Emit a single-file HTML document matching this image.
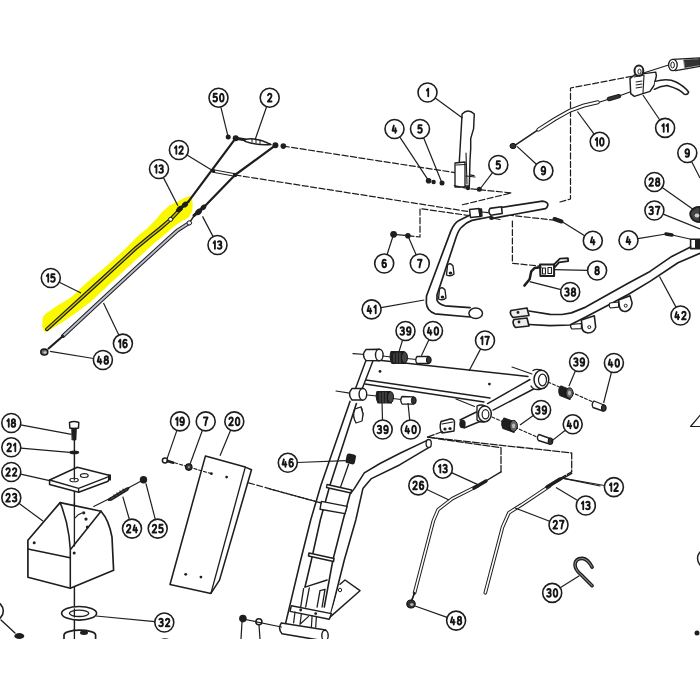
<!DOCTYPE html>
<html><head><meta charset="utf-8"><style>
html,body{margin:0;padding:0;background:#fff;}
svg{display:block;}
text{font-family:"Liberation Sans",sans-serif;fill:#1a1a1a;stroke:#1a1a1a;stroke-width:0.15px;}
</style></head><body>
<svg width="700" height="700" viewBox="0 0 700 700">
<rect x="0" y="0" width="700" height="700" fill="#fff"/>

<svg x="0" y="0" width="700" height="639" viewBox="0 0 700 639" overflow="hidden">
<path d="M190.3,196.6 L184,198.9 L176.9,202.9 L169.9,206 L162,213.1 L155.7,220.9 L147.9,228.8 L140,235.1 L135.7,239.4 L124,251 L112.5,261.5 L101.4,271.4 L90.7,280 L82.9,287.1 L75.7,294.3 L68.6,300 L60,305 L54.3,308.6 L47.1,313.6 L43.6,317.1 L42.9,326.4 L45,331 L47.1,330.7 L61.4,322.1 L75.7,312.1 L90,301.4 L112.9,280 L135.7,259 L154,242.5 L166.7,232 L174.6,225 L180.8,220.9 L187.9,217 L191.5,211 L192,204 L191,197.5 Z" fill="#fbf900" stroke="#fbf900" stroke-width="1.5" stroke-linejoin="round"/>
<polyline points="283.3,146.1 475,175.7" fill="none" stroke="#1e1e1e" stroke-width="1.2320000000000002" stroke-dasharray="6,2.5" stroke-linejoin="round" stroke-linecap="round" />
<polyline points="235,175 468,211.5" fill="none" stroke="#1e1e1e" stroke-width="1.2320000000000002" stroke-dasharray="6,2.5" stroke-linejoin="round" stroke-linecap="round" />
<polyline points="482,212 561,221" fill="none" stroke="#1e1e1e" stroke-width="1.2320000000000002" stroke-dasharray="6,2.5" stroke-linejoin="round" stroke-linecap="round" />
<polyline points="235.7,138.2 188.6,201.4" fill="none" stroke="#1e1e1e" stroke-width="2.24" stroke-linejoin="round" stroke-linecap="round" />
<polyline points="275.4,145.3 235,175 204,207" fill="none" stroke="#1e1e1e" stroke-width="2.24" stroke-linejoin="round" stroke-linecap="round" />
<polyline points="213.2,171 235,175" fill="none" stroke="#1e1e1e" stroke-width="3.4000000000000004" stroke-linejoin="round" stroke-linecap="round"/>
<polyline points="213.2,171 235,175" fill="none" stroke="#fff" stroke-width="1.6" stroke-linejoin="round" stroke-linecap="round"/>
<polyline points="236,138.2 246,140" fill="none" stroke="#1e1e1e" stroke-width="3.0" stroke-linejoin="round" stroke-linecap="round" />
<path d="M245,139.6 Q256,136.6 271,144.6 Q257,145.6 245,141.4 Z" fill="#fff" stroke="#1e1e1e" stroke-width="1.4560000000000002" stroke-linejoin="round" stroke-linecap="round"/>
<path d="M252,139 L252,142 M256,139.3 L256,143 M260,140 L260,143.6" fill="none" stroke="#1e1e1e" stroke-width="1.0080000000000002" stroke-linejoin="round" stroke-linecap="round"/>
<circle cx="228.2" cy="137.1" r="2.5" fill="#1e1e1e"/>
<circle cx="235.7" cy="138.2" r="3" fill="#1e1e1e"/>
<circle cx="275.4" cy="145.3" r="3" fill="#1e1e1e"/>
<circle cx="283.3" cy="146.1" r="2.8" fill="#1e1e1e"/>
<circle cx="213.5" cy="171" r="1.8" fill="#1e1e1e"/>
<circle cx="235" cy="175" r="2.2" fill="#1e1e1e"/>
<polyline points="181,208.5 170.6,219.4 160,228.5 150,236.5 136,248 100,281 46.9,329.3" fill="none" stroke="#1e1e1e" stroke-width="3.8" stroke-linejoin="round" stroke-linecap="round"/>
<polyline points="181,208.5 170.6,219.4 160,228.5 150,236.5 136,248 100,281 46.9,329.3" fill="none" stroke="#c9c400" stroke-width="1.5" stroke-linejoin="round" stroke-linecap="round"/>
<ellipse cx="170.6" cy="219.4" rx="2.2" ry="2" fill="#eee" stroke="#1e1e1e" stroke-width="1"/>
<polyline points="195,214.5 189.3,222.9" fill="none" stroke="#1e1e1e" stroke-width="1.4560000000000002" stroke-linejoin="round" stroke-linecap="round" />
<polyline points="189.3,222.9 177.7,230.3 168,239 135.7,268.5 100,301.5 63,336" fill="none" stroke="#1e1e1e" stroke-width="3.9" stroke-linejoin="round" stroke-linecap="round"/>
<polyline points="189.3,222.9 177.7,230.3 168,239 135.7,268.5 100,301.5 63,336" fill="none" stroke="#b8bccc" stroke-width="1.9" stroke-linejoin="round" stroke-linecap="round"/>
<ellipse cx="189.3" cy="222.9" rx="2.3" ry="2.1" fill="#eee" stroke="#1e1e1e" stroke-width="1"/>
<polyline points="63,336 48.6,348.5" fill="none" stroke="#1e1e1e" stroke-width="2.24" stroke-linejoin="round" stroke-linecap="round" />
<ellipse cx="44.3" cy="352.1" rx="3.6" ry="3.1" fill="#666" stroke="#111" stroke-width="1.3"/>
<ellipse cx="45" cy="352.5" rx="1.5" ry="1.2" fill="#ccc"/>
<polyline points="177.5,210.5 186.5,203.5" fill="none" stroke="#1e1e1e" stroke-width="3.2" stroke-linejoin="round" stroke-linecap="round" />
<ellipse cx="179.8" cy="208.8" rx="3.2" ry="2.6" transform="rotate(-38 179.8 208.8)" fill="#1e1e1e"/>
<ellipse cx="185" cy="204.6" rx="3.2" ry="2.6" transform="rotate(-38 185 204.6)" fill="#1e1e1e"/>
<polyline points="185,205 188.6,201.4" fill="none" stroke="#1e1e1e" stroke-width="2.24" stroke-linejoin="round" stroke-linecap="round" />
<polyline points="194,215.5 205,206" fill="none" stroke="#1e1e1e" stroke-width="3.0" stroke-linejoin="round" stroke-linecap="round" />
<ellipse cx="198.6" cy="211.8" rx="3.6" ry="2.8" transform="rotate(-42 198.6 211.8)" fill="#1e1e1e"/>
<ellipse cx="203.4" cy="207.4" rx="3" ry="2.4" transform="rotate(-42 203.4 207.4)" fill="#1e1e1e"/>
<path d="M457.9,186 L462.1,114 Q468,108 474.3,114 L473.6,128.6 L470.7,138.6 L470.7,148.6 L470,160 L469.3,186 Z" fill="#fff" stroke="#1e1e1e" stroke-width="1.4560000000000002" stroke-linejoin="round" stroke-linecap="round"/>
<path d="M455,163 L465,162 L465,187 L455,187 Z" fill="#fff" stroke="#1e1e1e" stroke-width="1.344" stroke-linejoin="round" stroke-linecap="round"/>
<path d="M456,165 L465.5,164.5" fill="none" stroke="#1e1e1e" stroke-width="1.12" stroke-linejoin="round" stroke-linecap="round"/>
<polyline points="466,153 467,184" fill="none" stroke="#1e1e1e" stroke-width="1.12" stroke-linejoin="round" stroke-linecap="round" />
<polyline points="466,176 475,177" fill="none" stroke="#1e1e1e" stroke-width="1.12" stroke-linejoin="round" stroke-linecap="round" />
<polyline points="454.3,185.7 468.6,188.6 511.4,192.9 461.4,205" fill="none" stroke="#1e1e1e" stroke-width="1.2320000000000002" stroke-dasharray="6,2.5" stroke-linejoin="round" stroke-linecap="round" />
<circle cx="428.6" cy="180.7" r="2.8" fill="#1e1e1e"/>
<circle cx="433.6" cy="182" r="2.2" fill="#1e1e1e"/>
<circle cx="442" cy="183" r="2.5" fill="#1e1e1e"/>
<circle cx="479.3" cy="189.3" r="2.5" fill="#1e1e1e"/>
<circle cx="468" cy="188" r="2.2" fill="#1e1e1e"/>
<polyline points="560,202 570.5,199 570.5,88 631.4,76.4" fill="none" stroke="#1e1e1e" stroke-width="1.2320000000000002" stroke-dasharray="6,2.5" stroke-linejoin="round" stroke-linecap="round" />
<polyline points="631,77 668.6,65" fill="none" stroke="#1e1e1e" stroke-width="1.2320000000000002" stroke-linejoin="round" stroke-linecap="round" />
<polyline points="513.4,146.3 538.4,129.6" fill="none" stroke="#1e1e1e" stroke-width="1.568" stroke-linejoin="round" stroke-linecap="round" />
<polyline points="538.4,129.6 555,119 570,110.6 584,105.5 597.9,102.2" fill="none" stroke="#1e1e1e" stroke-width="4.0" stroke-linejoin="round" stroke-linecap="round"/>
<polyline points="538.4,129.6 555,119 570,110.6 584,105.5 597.9,102.2" fill="none" stroke="#fff" stroke-width="2.0" stroke-linejoin="round" stroke-linecap="round"/>
<polyline points="600,102 609,99" fill="none" stroke="#1e1e1e" stroke-width="1.2320000000000002" stroke-linejoin="round" stroke-linecap="round" />
<polyline points="609,99 619,96.2" fill="none" stroke="#1e1e1e" stroke-width="4.5" stroke-linejoin="round" stroke-linecap="round"/>
<polyline points="609,99 619,96.2" fill="none" stroke="#333" stroke-width="2.5" stroke-linejoin="round" stroke-linecap="round"/>
<polyline points="619,96 630,92" fill="none" stroke="#1e1e1e" stroke-width="1.2320000000000002" stroke-linejoin="round" stroke-linecap="round" />
<ellipse cx="513" cy="146" rx="3" ry="2.6" fill="#333" stroke="#111" stroke-width="1"/>
<path d="M630,78.6 L634.3,75 L644.3,73.6 L655.7,72.1 L656.4,75.7 L654.3,85 L650,91.4 L642.9,93.6 L634.3,96.4 L630.7,93.6 Z" fill="#fff" stroke="#1e1e1e" stroke-width="1.4560000000000002" stroke-linejoin="round" stroke-linecap="round"/>
<path d="M634,77 L644,75 L643,93" fill="none" stroke="#1e1e1e" stroke-width="1.12" stroke-linejoin="round" stroke-linecap="round"/>
<path d="M636,82 L642,81 M636,85 L642,84 M636,88 L642,87" fill="none" stroke="#1e1e1e" stroke-width="1.0080000000000002" stroke-linejoin="round" stroke-linecap="round"/>
<ellipse cx="638.9" cy="70.7" rx="4.4" ry="5.1" fill="#fff" stroke="#1e1e1e" stroke-width="2"/>
<ellipse cx="639.5" cy="71.5" rx="1.6" ry="2.4" fill="#fff" stroke="#1e1e1e" stroke-width="1"/>
<path d="M655,81.4 Q668,78 676,82 Q684,86 688.6,92 Q688,95 684.3,94.3 Q680,89 667,85.5 Q660,86 654.3,89.3" fill="#fff" stroke="#1e1e1e" stroke-width="1.4560000000000002" stroke-linejoin="round" stroke-linecap="round"/>
<path d="M673,59.3 L700,57.9 L700,66.4 L675.7,70.7" fill="#fff" stroke="#1e1e1e" stroke-width="1.344" stroke-linejoin="round" stroke-linecap="round"/>
<ellipse cx="672.9" cy="65" rx="4.3" ry="5.7" fill="#fff" stroke="#1e1e1e" stroke-width="1.3"/>
<path d="M684,60 L700,59.2 L700,65 L685,67.5 Z" fill="#333" stroke="#1e1e1e" stroke-width="0.56" stroke-linejoin="round" stroke-linecap="round"/>
<ellipse cx="672.6" cy="65" rx="1.8" ry="3" fill="#fff" stroke="#1e1e1e" stroke-width="1"/>
<path d="M690.5,212 Q694,206.5 700,207 L700,222 Q694,222 691.5,218 Q689.5,215 690.5,212 Z" fill="#444" stroke="#1e1e1e" stroke-width="1.7920000000000003" stroke-linejoin="round" stroke-linecap="round"/>
<ellipse cx="697" cy="215.5" rx="2.4" ry="2" fill="#ccc"/>
<polyline points="554.5,219 561.5,221.5" fill="none" stroke="#1e1e1e" stroke-width="4" stroke-linejoin="round" stroke-linecap="round" />
<polyline points="666,234 672,235" fill="none" stroke="#1e1e1e" stroke-width="3.5" stroke-linejoin="round" stroke-linecap="round" />
<polyline points="672,235 690,239" fill="none" stroke="#1e1e1e" stroke-width="1.2320000000000002" stroke-linejoin="round" stroke-linecap="round" />
<path d="M690.6,239.2 L700,239.2 L700,248.6 L690.6,248.6 Z" fill="#fff" stroke="#1e1e1e" stroke-width="1.568" stroke-linejoin="round" stroke-linecap="round"/>
<rect x="695" y="239.5" width="5" height="9" fill="#1e1e1e"/>
<polyline points="529,311 550,314.3 562,314.5 571.4,312.9 585.7,307.1 607.1,295 628.6,282.9 650,271.4 671.8,256.4 690.6,247" fill="none" stroke="#1e1e1e" stroke-width="1.6800000000000002" stroke-linejoin="round" stroke-linecap="round" />
<polyline points="529,324.5 550,325.7 570,325 585.7,317.1 607.1,305.7 628.6,294.3 650,281.4 678,262.7 700,253.3" fill="none" stroke="#1e1e1e" stroke-width="1.6800000000000002" stroke-linejoin="round" stroke-linecap="round" />
<path d="M511,310.5 L527,308 L529,315.5 L513,317.5 Q509,314 511,310.5 Z" fill="#eee" stroke="#1e1e1e" stroke-width="1.6800000000000002" stroke-linejoin="round" stroke-linecap="round"/>
<path d="M514,319.5 L527,318 L529,326 L515.5,327.5 Q511.5,323 514,319.5 Z" fill="#eee" stroke="#1e1e1e" stroke-width="1.6800000000000002" stroke-linejoin="round" stroke-linecap="round"/>
<circle cx="518" cy="312.5" r="1.4" fill="#1e1e1e"/>
<circle cx="519" cy="322" r="1.4" fill="#1e1e1e"/>
<path d="M571.4,324.3 L581.4,323.5 L581.4,328.6 L572,329 Q569.5,326.5 571.4,324.3 Z" fill="#fff" stroke="#1e1e1e" stroke-width="1.2320000000000002" stroke-linejoin="round" stroke-linecap="round"/>
<path d="M581.4,320 L594.3,315.7 L595.7,327.1 Q594,333 588,333 Q582,332.5 582.1,327.1 Z" fill="#fff" stroke="#1e1e1e" stroke-width="1.568" stroke-linejoin="round" stroke-linecap="round"/>
<circle cx="589.3" cy="327.1" r="1.5" fill="#fff" stroke="#1e1e1e" stroke-width="1"/>
<path d="M610,303 L618.6,302 L618.6,307.1 L610.5,308 Q608,305.5 610,303 Z" fill="#fff" stroke="#1e1e1e" stroke-width="1.2320000000000002" stroke-linejoin="round" stroke-linecap="round"/>
<path d="M618.6,300 L630,295.7 L632.1,302.9 Q631.5,310 626,311.4 Q620,312 619.3,305.7 Z" fill="#fff" stroke="#1e1e1e" stroke-width="1.568" stroke-linejoin="round" stroke-linecap="round"/>
<circle cx="625.7" cy="305.7" r="1.5" fill="#fff" stroke="#1e1e1e" stroke-width="1"/>
<polyline points="512.4,221 512.4,263.3 540.4,266.1" fill="none" stroke="#1e1e1e" stroke-width="1.2320000000000002" stroke-dasharray="6,2.5" stroke-linejoin="round" stroke-linecap="round" />
<path d="M554.1,264.4 L559.9,258.7 L567.9,258.2 L568.2,261.2 L559,262.4 L554.1,268" fill="#fff" stroke="#1e1e1e" stroke-width="1.7920000000000003" stroke-linejoin="round" stroke-linecap="round"/>
<path d="M540,264.6 L554.1,264.4 L554.1,275.9 L540.4,276 Z" fill="#fff" stroke="#1e1e1e" stroke-width="2.0160000000000005" stroke-linejoin="round" stroke-linecap="round"/>
<path d="M542.5,268 L545.5,268 L545.5,274 L542.5,274 Z M548,267.5 L551.5,267.5 L551.5,273.5 L548,273.5 Z" fill="#fff" stroke="#1e1e1e" stroke-width="1.12" stroke-linejoin="round" stroke-linecap="round"/>
<polyline points="524.4,285.6 529.6,279.3 531.3,271.3 534.7,267.9 540.4,267.3" fill="none" stroke="#1e1e1e" stroke-width="2.4640000000000004" stroke-linejoin="round" stroke-linecap="round" />
<path d="M470.1,317 L435,313.8 Q427,311 426.3,303 L426.5,296 L450.6,231.6 Q454,223 459,220.4 L470.1,214.9" fill="none" stroke="#1e1e1e" stroke-width="1.6800000000000002" stroke-linejoin="round" stroke-linecap="round"/>
<path d="M470.1,307.7 L445,305.8 Q438,304 437,300 L437,295 L456.2,237.1 Q459,229 462,226.9 Q467,222 472,220.4 L490.6,216.7" fill="none" stroke="#1e1e1e" stroke-width="1.6800000000000002" stroke-linejoin="round" stroke-linecap="round"/>
<ellipse cx="475.7" cy="313.3" rx="6.8" ry="5.2" fill="#fff" stroke="#1e1e1e" stroke-width="1.5"/>
<path d="M446.5,275 L447.5,265 Q450,262 453,266 L454,274 Q451,277 446.5,275 Z" fill="#fff" stroke="#1e1e1e" stroke-width="1.344" stroke-linejoin="round" stroke-linecap="round"/>
<ellipse cx="450.5" cy="273" rx="1.8" ry="1.6" fill="#1e1e1e"/>
<path d="M438.5,299 L439.5,289 Q442,286 445,290 L446,298 Q443,301 438.5,299 Z" fill="#fff" stroke="#1e1e1e" stroke-width="1.344" stroke-linejoin="round" stroke-linecap="round"/>
<ellipse cx="442.5" cy="297" rx="1.8" ry="1.6" fill="#1e1e1e"/>
<path d="M491.4,209 L542.5,201.1 Q549,202 547.6,206 Q546.5,209 544.2,208.9 L492.7,218.3" fill="#fff" stroke="#1e1e1e" stroke-width="1.6800000000000002" stroke-linejoin="round" stroke-linecap="round"/>
<path d="M490,208.4 L501.5,206.7 L502.2,213.4 L490.8,215.3 Q487.5,211.8 490,208.4 Z" fill="#fff" stroke="#1e1e1e" stroke-width="1.568" stroke-linejoin="round" stroke-linecap="round"/>
<path d="M469.5,209.5 L479,208.5 L480,216.5 L470.5,217.5 Z" fill="#fff" stroke="#1e1e1e" stroke-width="1.4560000000000002" stroke-linejoin="round" stroke-linecap="round"/>
<path d="M479,209 L481.5,209 L482,216 L480,216.5 Z" fill="#1e1e1e" stroke="#1e1e1e" stroke-width="1.344" stroke-linejoin="round" stroke-linecap="round"/>
<ellipse cx="491.5" cy="218" rx="2.4" ry="2" fill="#1e1e1e"/>
<polyline points="491.5,218 500,219.5" fill="none" stroke="#1e1e1e" stroke-width="1.2320000000000002" stroke-linejoin="round" stroke-linecap="round" />
<polyline points="407.9,235.7 420,237 420,208.6 468.6,215.5" fill="none" stroke="#1e1e1e" stroke-width="1.2320000000000002" stroke-dasharray="6,2.5" stroke-linejoin="round" stroke-linecap="round" />
<polyline points="393.6,234.3 407.9,235.7" fill="none" stroke="#1e1e1e" stroke-width="1.344" stroke-linejoin="round" stroke-linecap="round" />
<circle cx="393.6" cy="234.3" r="3.4" fill="#1e1e1e"/>
<circle cx="407.9" cy="235.7" r="2.8" fill="#1e1e1e"/>
<polyline points="352.9,353.6 366,354.5" fill="none" stroke="#1e1e1e" stroke-width="1.12" stroke-linejoin="round" stroke-linecap="round" />
<polyline points="336,391 353,393.6" fill="none" stroke="#1e1e1e" stroke-width="1.12" stroke-linejoin="round" stroke-linecap="round" />
<path d="M377,360 L528,376.5" fill="none" stroke="#1e1e1e" stroke-width="1.4560000000000002" stroke-linejoin="round" stroke-linecap="round"/>
<path d="M366,380 L490,398" fill="none" stroke="#1e1e1e" stroke-width="1.4560000000000002" stroke-linejoin="round" stroke-linecap="round"/>
<path d="M365,384 L484,402" fill="none" stroke="#1e1e1e" stroke-width="1.4560000000000002" stroke-linejoin="round" stroke-linecap="round"/>
<circle cx="380" cy="371.4" r="1.4" fill="#1e1e1e"/>
<circle cx="489.4" cy="384.1" r="1.4" fill="#1e1e1e"/>
<path d="M366.4,359.3 L355.7,388 M372.9,361 L362.1,389" fill="none" stroke="#1e1e1e" stroke-width="1.4560000000000002" stroke-linejoin="round" stroke-linecap="round"/>
<path d="M366,349.5 L379.3,349.3 L379.3,360.7 L366,360.5 Q361,355 366,349.5 Z" fill="#fff" stroke="#1e1e1e" stroke-width="1.4560000000000002" stroke-linejoin="round" stroke-linecap="round"/>
<ellipse cx="379.3" cy="355" rx="3.8" ry="5.8" fill="#fff" stroke="#1e1e1e" stroke-width="1.4"/>
<path d="M352,388.6 L362.9,388.6 L362.9,400 L352,400 Q347,394.3 352,388.6 Z" fill="#fff" stroke="#1e1e1e" stroke-width="1.4560000000000002" stroke-linejoin="round" stroke-linecap="round"/>
<ellipse cx="362.9" cy="394.3" rx="3.8" ry="5.8" fill="#fff" stroke="#1e1e1e" stroke-width="1.4"/>
<polyline points="383,356 391,357" fill="none" stroke="#1e1e1e" stroke-width="1.12" stroke-linejoin="round" stroke-linecap="round" />
<path d="M391,351.6 L404,351.6 L405.5,363.4 L392,363.4 Q389,357.5 391,351.6 Z" fill="#1e1e1e" stroke="#1e1e1e" stroke-width="1.12" stroke-linejoin="round" stroke-linecap="round"/>
<path d="M394,354 L394,362 M397,353 L397,363 M400,353 L400,363" fill="none" stroke="#777" stroke-width="0.672" stroke-linejoin="round" stroke-linecap="round"/>
<ellipse cx="404.5" cy="357.5" rx="3" ry="5.6" fill="#444" stroke="#111" stroke-width="1"/>
<polyline points="407,358.5 416,359.5" fill="none" stroke="#1e1e1e" stroke-width="1.12" stroke-linejoin="round" stroke-linecap="round" />
<path d="M417,356.5 L428.5,356.5 L428.5,363.5 L417,363.5 Q414.5,360 417,356.5 Z" fill="#fff" stroke="#1e1e1e" stroke-width="1.344" stroke-linejoin="round" stroke-linecap="round"/>
<ellipse cx="428.8" cy="360" rx="2.4" ry="3.6" fill="#333" stroke="#111" stroke-width="1"/>
<polyline points="367,395 377,396" fill="none" stroke="#1e1e1e" stroke-width="1.12" stroke-linejoin="round" stroke-linecap="round" />
<path d="M377,391.5 L390,391.5 L391.5,403 L378,403 Q375,397.2 377,391.5 Z" fill="#1e1e1e" stroke="#1e1e1e" stroke-width="1.12" stroke-linejoin="round" stroke-linecap="round"/>
<path d="M380,393 L380,402 M383,392.5 L383,402.5 M386,392.5 L386,402.5" fill="none" stroke="#777" stroke-width="0.672" stroke-linejoin="round" stroke-linecap="round"/>
<ellipse cx="390.5" cy="397.2" rx="3" ry="5.6" fill="#444" stroke="#111" stroke-width="1"/>
<polyline points="393,398.5 401,399.5" fill="none" stroke="#1e1e1e" stroke-width="1.12" stroke-linejoin="round" stroke-linecap="round" />
<path d="M402,396.5 L413.5,396.8 L413.5,404.2 L402,404 Q399.5,400.2 402,396.5 Z" fill="#fff" stroke="#1e1e1e" stroke-width="1.344" stroke-linejoin="round" stroke-linecap="round"/>
<ellipse cx="413.8" cy="400.5" rx="2.4" ry="3.6" fill="#333" stroke="#111" stroke-width="1"/>
<path d="M355,409 L361,407 L363,414 L362,420 L355,420 Q352,414 355,409 Z" fill="#fff" stroke="#1e1e1e" stroke-width="1.2320000000000002" stroke-linejoin="round" stroke-linecap="round"/>
<circle cx="361" cy="409" r="1.6" fill="#1e1e1e"/>
<path d="M487.6,403.6 L530,379.5 M493.1,410.1 L536.5,387.5" fill="none" stroke="#1e1e1e" stroke-width="1.4560000000000002" stroke-linejoin="round" stroke-linecap="round"/>
<path d="M533,370.5 Q536,368.5 541,370 L541,389 Q534,391 531,386" fill="#fff" stroke="#1e1e1e" stroke-width="1.4560000000000002" stroke-linejoin="round" stroke-linecap="round"/>
<ellipse cx="541.4" cy="379.5" rx="7.4" ry="9.3" fill="#fff" stroke="#1e1e1e" stroke-width="1.5"/>
<ellipse cx="542.5" cy="380" rx="4" ry="5.8" fill="#fff" stroke="#1e1e1e" stroke-width="1.2"/>
<polyline points="512,367 532,374" fill="none" stroke="#1e1e1e" stroke-width="1.12" stroke-linejoin="round" stroke-linecap="round" />
<path d="M476.4,412 L460,420 M481,421 L464,428" fill="none" stroke="#1e1e1e" stroke-width="1.4560000000000002" stroke-linejoin="round" stroke-linecap="round"/>
<ellipse cx="462.5" cy="424" rx="3.2" ry="4.2" fill="#1e1e1e"/>
<path d="M477,406 Q481,404 485,406 L485,421.5 Q480,423 477,420 Z" fill="#fff" stroke="#1e1e1e" stroke-width="1.344" stroke-linejoin="round" stroke-linecap="round"/>
<ellipse cx="484.8" cy="413.9" rx="6.5" ry="7.8" fill="#fff" stroke="#1e1e1e" stroke-width="1.5"/>
<ellipse cx="485.5" cy="414.3" rx="3.4" ry="4.6" fill="#fff" stroke="#1e1e1e" stroke-width="1.2"/>
<polyline points="456,399 474.6,406.4" fill="none" stroke="#1e1e1e" stroke-width="1.12" stroke-linejoin="round" stroke-linecap="round" />
<path d="M441,421.5 L451,418.8 Q455,419 454.5,424 L454,431 L442,433 Q439,428 441,421.5 Z" fill="#fff" stroke="#1e1e1e" stroke-width="1.4560000000000002" stroke-linejoin="round" stroke-linecap="round"/>
<path d="M442,424 L453,422" fill="none" stroke="#1e1e1e" stroke-width="1.12" stroke-linejoin="round" stroke-linecap="round"/>
<circle cx="445" cy="429" r="1.6" fill="#1e1e1e"/>
<circle cx="450" cy="428.5" r="1.6" fill="#1e1e1e"/>
<polyline points="548,382 600,405" fill="none" stroke="#1e1e1e" stroke-width="1.12" stroke-dasharray="3,2" stroke-linejoin="round" stroke-linecap="round" />
<path d="M561,386 L571,390 L570,399.5 L560,395.5 Q557,390 561,386 Z" fill="#1e1e1e" stroke="#1e1e1e" stroke-width="1.12" stroke-linejoin="round" stroke-linecap="round"/>
<ellipse cx="569.5" cy="393" rx="3.6" ry="5.2" fill="#666" stroke="#111" stroke-width="1"/>
<ellipse cx="569.5" cy="393" rx="1.5" ry="2.2" fill="#bbb"/>
<path d="M594,401 L604,405 L603,411 L593,407.5 Q591,404 594,401 Z" fill="#fff" stroke="#1e1e1e" stroke-width="1.344" stroke-linejoin="round" stroke-linecap="round"/>
<ellipse cx="603.8" cy="408" rx="2.4" ry="3.3" fill="#333" stroke="#111" stroke-width="1"/>
<polyline points="492,417 537,437" fill="none" stroke="#1e1e1e" stroke-width="1.12" stroke-dasharray="3,2" stroke-linejoin="round" stroke-linecap="round" />
<path d="M504,418 L515,422 L514,432.4 L503,428.5 Q500,423 504,418 Z" fill="#1e1e1e" stroke="#1e1e1e" stroke-width="1.12" stroke-linejoin="round" stroke-linecap="round"/>
<ellipse cx="513.6" cy="425.9" rx="3.8" ry="5.5" fill="#666" stroke="#111" stroke-width="1"/>
<ellipse cx="513.6" cy="425.9" rx="1.6" ry="2.4" fill="#bbb"/>
<path d="M539,434.5 L550,438.5 L549.5,444 L538.5,440.5 Q536,437.5 539,434.5 Z" fill="#fff" stroke="#1e1e1e" stroke-width="1.344" stroke-linejoin="round" stroke-linecap="round"/>
<ellipse cx="550.5" cy="441.2" rx="2.4" ry="3.3" fill="#333" stroke="#111" stroke-width="1"/>
<polyline points="350,401.4 321,485 310.7,520 300.7,560 285.7,622.9" fill="none" stroke="#1e1e1e" stroke-width="1.568" stroke-linejoin="round" stroke-linecap="round" />
<polyline points="356.4,403.6 330,485 320.3,520 311.4,560 305,587" fill="none" stroke="#1e1e1e" stroke-width="1.568" stroke-linejoin="round" stroke-linecap="round" />
<path d="M355,409 L361,407 L363,414 L362,421 L356,423 Q352,416 355,409 Z" fill="#fff" stroke="#1e1e1e" stroke-width="1.2320000000000002" stroke-linejoin="round" stroke-linecap="round"/>
<polyline points="427.1,440.4 400,453.3 380,463.5 364.3,472.9 354.3,488.6 350,494.3 343.1,520 332.9,560 324.3,607" fill="none" stroke="#1e1e1e" stroke-width="1.568" stroke-linejoin="round" stroke-linecap="round" />
<polyline points="430.3,446.7 400,464.7 371.4,478.6 362.9,488.6 355.8,520 344.3,560 330,617" fill="none" stroke="#1e1e1e" stroke-width="1.568" stroke-linejoin="round" stroke-linecap="round" />
<ellipse cx="428.7" cy="443.5" rx="2.6" ry="4" fill="#fff" stroke="#1e1e1e" stroke-width="1.3"/>
<rect x="346" y="454" width="9.5" height="10" rx="2.5" fill="#1e1e1e" transform="rotate(12 351 459)"/>
<polyline points="348.6,464.3 340,488.6" fill="none" stroke="#1e1e1e" stroke-width="1.344" stroke-linejoin="round" stroke-linecap="round" />
<path d="M327,484.5 L351.5,490 L351,493 L326.5,487.5 Z" fill="#fff" stroke="#1e1e1e" stroke-width="1.344" stroke-linejoin="round" stroke-linecap="round"/>
<path d="M321.4,501.4 L347.1,506.4 L345,513.6 L320,509.3 Z" fill="#fff" stroke="#1e1e1e" stroke-width="1.4560000000000002" stroke-linejoin="round" stroke-linecap="round"/>
<path d="M309,553 L334,558.5 L333.5,561.5 L308.5,556 Z" fill="#fff" stroke="#1e1e1e" stroke-width="1.568" stroke-linejoin="round" stroke-linecap="round"/>
<path d="M305,587.1 L327.1,580" fill="none" stroke="#1e1e1e" stroke-width="1.4560000000000002" stroke-linejoin="round" stroke-linecap="round"/>
<path d="M303.6,588.6 L300.7,607 M309.3,587.9 L305.7,607 M320,590.7 L317.1,607 M325,589.3 L322.1,607 M320,590.7 L325,589.3" fill="none" stroke="#1e1e1e" stroke-width="1.344" stroke-linejoin="round" stroke-linecap="round"/>
<path d="M340,584.3 L345,580 L360,590.7 L330,617.1" fill="#fff" stroke="#1e1e1e" stroke-width="1.4560000000000002" stroke-linejoin="round" stroke-linecap="round"/>
<ellipse cx="340" cy="590" rx="1.6" ry="1.8" fill="#fff" stroke="#1e1e1e" stroke-width="1"/>
<path d="M291.4,605.7 L331.4,613.6 L329.3,619.3 L290,611.4 Z" fill="#fff" stroke="#1e1e1e" stroke-width="1.4560000000000002" stroke-linejoin="round" stroke-linecap="round"/>
<circle cx="300.7" cy="610" r="1.4" fill="#1e1e1e"/>
<circle cx="315.7" cy="613.6" r="1.4" fill="#1e1e1e"/>
<path d="M295,612 L293.6,622.9 M301.4,613.6 L300,624.3 M312.1,615.7 L311.4,627.1 M316.4,616.4 L315.7,627.1 M300,624.3 L308.6,616.4" fill="none" stroke="#1e1e1e" stroke-width="1.2320000000000002" stroke-linejoin="round" stroke-linecap="round"/>
<path d="M281.4,622.9 L325.7,630 L325,641 L282,633.8 Q277.5,628.5 281.4,622.9 Z" fill="#fff" stroke="#1e1e1e" stroke-width="1.568" stroke-linejoin="round" stroke-linecap="round"/>
<ellipse cx="325" cy="635.5" rx="3.2" ry="5.2" fill="#fff" stroke="#1e1e1e" stroke-width="1.4"/>
<polyline points="270,489 321.4,503" fill="none" stroke="#1e1e1e" stroke-width="1.2320000000000002" stroke-dasharray="6,2.5" stroke-linejoin="round" stroke-linecap="round" />
<circle cx="242.9" cy="618.6" r="3.8" fill="#1e1e1e"/>
<circle cx="258.9" cy="621.8" r="3" fill="#fff" stroke="#1e1e1e" stroke-width="1.6"/>
<polyline points="243,619 281.4,627" fill="none" stroke="#1e1e1e" stroke-width="1.2320000000000002" stroke-linejoin="round" stroke-linecap="round" />
<polyline points="242,622 241,639" fill="none" stroke="#1e1e1e" stroke-width="1.2320000000000002" stroke-linejoin="round" stroke-linecap="round" />
<polyline points="259,625 260,639" fill="none" stroke="#1e1e1e" stroke-width="1.2320000000000002" stroke-linejoin="round" stroke-linecap="round" />
<path d="M205.4,456.1 L245.3,467.1 L251.5,469.8 L219.5,580.1 L210.9,593.4 L170,584.5 Z" fill="#fff" stroke="#1e1e1e" stroke-width="1.568" stroke-linejoin="round" stroke-linecap="round"/>
<path d="M245.3,467.1 L210.9,593.4" fill="none" stroke="#1e1e1e" stroke-width="1.344" stroke-linejoin="round" stroke-linecap="round"/>
<circle cx="211.4" cy="473.7" r="1.4" fill="#1e1e1e"/>
<circle cx="226.6" cy="477.1" r="1.4" fill="#1e1e1e"/>
<circle cx="185.7" cy="574.3" r="1.4" fill="#1e1e1e"/>
<circle cx="200.9" cy="577.1" r="1.4" fill="#1e1e1e"/>
<polyline points="170,461.4 211.4,473.7" fill="none" stroke="#1e1e1e" stroke-width="1.12" stroke-dasharray="3,2" stroke-linejoin="round" stroke-linecap="round" />
<polyline points="248.6,482.9 321,503" fill="none" stroke="#1e1e1e" stroke-width="1.2320000000000002" stroke-dasharray="6,2.5" stroke-linejoin="round" stroke-linecap="round" />
<ellipse cx="165" cy="460.5" rx="2.6" ry="2.4" fill="#fff" stroke="#1e1e1e" stroke-width="1.5"/>
<polyline points="167.5,461 173.3,462.7" fill="none" stroke="#1e1e1e" stroke-width="2.6" stroke-linejoin="round" stroke-linecap="round" />
<circle cx="188.8" cy="467.1" r="3.2" fill="#333" stroke="#111" stroke-width="1.2"/>
<circle cx="188.8" cy="467.1" r="1.1" fill="#999"/>
<polyline points="74.4,428 74.4,639" fill="none" stroke="#1e1e1e" stroke-width="1.4560000000000002" stroke-linejoin="round" stroke-linecap="round" />
<path d="M69.5,422.5 Q74,420.5 78.8,422.5 L78.5,428 Q74,429.5 69.8,428 Z" fill="#fff" stroke="#1e1e1e" stroke-width="1.4560000000000002" stroke-linejoin="round" stroke-linecap="round"/>
<path d="M71.8,428 L76.5,428 L76,440 L72.2,440 Z" fill="#1e1e1e" stroke="#1e1e1e" stroke-width="0.672" stroke-linejoin="round" stroke-linecap="round"/>
<ellipse cx="74.2" cy="452.4" rx="5" ry="1.8" fill="#1e1e1e"/>
<path d="M49.6,480 L77.3,467.2 L110,475.6 L108.1,481.3 L78.6,492.3 L49.6,484.6 Z" fill="#fff" stroke="#1e1e1e" stroke-width="1.568" stroke-linejoin="round" stroke-linecap="round"/>
<path d="M49.6,480 L78.6,488.4 L108.1,476.8 M78.6,488.4 L78.6,492.3" fill="none" stroke="#1e1e1e" stroke-width="1.344" stroke-linejoin="round" stroke-linecap="round"/>
<ellipse cx="84.3" cy="475.6" rx="3.9" ry="1.9" fill="#fff" stroke="#1e1e1e" stroke-width="1.2"/>
<ellipse cx="74.1" cy="480" rx="4.2" ry="1.8" fill="#fff" stroke="#1e1e1e" stroke-width="1.1"/>
<polyline points="74.4,468 74.4,480" fill="none" stroke="#1e1e1e" stroke-width="1.344" stroke-linejoin="round" stroke-linecap="round" />
<rect x="108" y="474.5" width="3" height="6" fill="#1e1e1e"/>
<path d="M27.9,540.3 L60.1,502.6 L101,511.2 Q109,520 112,537.2 L113.6,570.2 L70.3,588.3 L27.9,577.3 Z" fill="#fff" stroke="#1e1e1e" stroke-width="1.6800000000000002" stroke-linejoin="round" stroke-linecap="round"/>
<path d="M27.9,549 L69,557.6 M70.3,549.7 L70.3,588.3 M70.3,549.7 L101,511.2 M60.1,502.6 Q66.5,518 69,536 L70.3,549.7" fill="none" stroke="#1e1e1e" stroke-width="1.568" stroke-linejoin="round" stroke-linecap="round"/>
<path d="M75,518 Q78,514 82,513" fill="none" stroke="#1e1e1e" stroke-width="1.12" stroke-linejoin="round" stroke-linecap="round"/>
<polyline points="74.4,503 74.4,546" fill="none" stroke="#1e1e1e" stroke-width="1.344" stroke-linejoin="round" stroke-linecap="round" />
<circle cx="34.2" cy="542.7" r="1.5" fill="#1e1e1e"/>
<circle cx="74.2" cy="552.9" r="1.5" fill="#1e1e1e"/>
<circle cx="83.7" cy="512.8" r="1.6" fill="#1e1e1e"/>
<circle cx="86" cy="519.1" r="1.6" fill="#1e1e1e"/>
<circle cx="87.3" cy="527" r="1.5" fill="#1e1e1e"/>
<polyline points="110.7,497.9 93.7,506.4" fill="none" stroke="#1e1e1e" stroke-width="1.12" stroke-linejoin="round" stroke-linecap="round" />
<polyline points="127.7,488.2 143.5,479.7" fill="none" stroke="#1e1e1e" stroke-width="1.12" stroke-linejoin="round" stroke-linecap="round" />
<path d="M109.5,498.6 L126,488.5 L129,487.6 L127.5,490.2 L111.5,500 L108.5,500.2 Z" fill="#555" stroke="#1e1e1e" stroke-width="1.4560000000000002" stroke-linejoin="round" stroke-linecap="round"/>
<path d="M114,495 L115.5,497.5 M117,493 L118.5,495.5 M120,491 L121.5,493.5 M123,489.2 L124.5,491.7" fill="none" stroke="#1e1e1e" stroke-width="1.2320000000000002" stroke-linejoin="round" stroke-linecap="round"/>
<circle cx="143.5" cy="479.7" r="3.7" fill="#1e1e1e"/>
<ellipse cx="79.1" cy="613.3" rx="17.5" ry="6.8" fill="#fff" stroke="#1e1e1e" stroke-width="1.6"/>
<ellipse cx="79.1" cy="613.3" rx="9.7" ry="3.2" fill="#fff" stroke="#1e1e1e" stroke-width="1.3"/>
<path d="M64,642 L64,635 A15.8,4.8 0 0 1 95.6,635 L95.6,642" fill="#fff" stroke="#1e1e1e" stroke-width="1.6800000000000002" stroke-linejoin="round" stroke-linecap="round"/>
<polyline points="74.4,630 74.4,639" fill="none" stroke="#1e1e1e" stroke-width="1.344" stroke-linejoin="round" stroke-linecap="round" />
<polyline points="74.4,609 74.4,617" fill="none" stroke="#1e1e1e" stroke-width="1.344" stroke-linejoin="round" stroke-linecap="round" />
<ellipse cx="84" cy="632.7" rx="4" ry="2.2" fill="#1e1e1e"/>
<ellipse cx="19.3" cy="636" rx="5" ry="3" fill="#1e1e1e"/>
<polyline points="1,620 15,633" fill="none" stroke="#1e1e1e" stroke-width="1.344" stroke-linejoin="round" stroke-linecap="round" />
<circle cx="-6" cy="611" r="9.3" fill="#fff" stroke="#1e1e1e" stroke-width="1.6"/>
<circle cx="165" cy="648.3" r="9.3" fill="#fff" stroke="#1e1e1e" stroke-width="1.6"/>
<polyline points="442.5,431.5 427.5,437.2 501,447.7 501,471.9" fill="none" stroke="#1e1e1e" stroke-width="1.288" stroke-dasharray="7,2" stroke-linejoin="round" stroke-linecap="round" />
<polyline points="427.5,437.2 571.7,453 571.7,471.9 560.7,478.1" fill="none" stroke="#1e1e1e" stroke-width="1.288" stroke-dasharray="7,2" stroke-linejoin="round" stroke-linecap="round" />
<polyline points="501,471.9 477.4,486" fill="none" stroke="#1e1e1e" stroke-width="1.4560000000000002" stroke-linejoin="round" stroke-linecap="round" />
<polyline points="477.4,486 452.3,498.6 438.1,509.6 433.4,520.6 414.6,592.8" fill="none" stroke="#1e1e1e" stroke-width="3.6" stroke-linejoin="round" stroke-linecap="round"/>
<polyline points="477.4,486 452.3,498.6 438.1,509.6 433.4,520.6 414.6,592.8" fill="none" stroke="#fff" stroke-width="1.6" stroke-linejoin="round" stroke-linecap="round"/>
<polyline points="486,481 474,488" fill="none" stroke="#1e1e1e" stroke-width="3.5" stroke-linejoin="round" stroke-linecap="round" />
<polyline points="571.7,473.4 549.7,486" fill="none" stroke="#1e1e1e" stroke-width="1.4560000000000002" stroke-linejoin="round" stroke-linecap="round" />
<polyline points="549.7,486 521.4,504.9 508.9,512.7 502.6,526.9 485.3,592.8" fill="none" stroke="#1e1e1e" stroke-width="3.6" stroke-linejoin="round" stroke-linecap="round"/>
<polyline points="549.7,486 521.4,504.9 508.9,512.7 502.6,526.9 485.3,592.8" fill="none" stroke="#fff" stroke-width="1.6" stroke-linejoin="round" stroke-linecap="round"/>
<polyline points="560,479 547,487" fill="none" stroke="#1e1e1e" stroke-width="3.5" stroke-linejoin="round" stroke-linecap="round" />
<polyline points="562.3,478.1 600,486" fill="none" stroke="#1e1e1e" stroke-width="1.2320000000000002" stroke-linejoin="round" stroke-linecap="round" />
<polyline points="414.6,592.8 411.5,601" fill="none" stroke="#1e1e1e" stroke-width="1.7920000000000003" stroke-linejoin="round" stroke-linecap="round" />
<ellipse cx="411" cy="604" rx="4.2" ry="4" fill="#333" stroke="#111" stroke-width="1.2"/>
<ellipse cx="411.8" cy="604.6" rx="1.8" ry="1.4" fill="#bbb"/>
<path d="M592.1,567.1 Q588,559 582.5,558.4 Q575.5,558.2 575,564.5 Q575.2,570 580.7,574.3 L592.1,585.7" fill="none" stroke="#1e1e1e" stroke-width="3.6" stroke-linejoin="round" stroke-linecap="round"/>
<path d="M592.1,567.1 Q588,559 582.5,558.4 Q575.5,558.2 575,564.5 Q575.2,570 580.7,574.3 L592.1,585.7" fill="none" stroke="#888" stroke-width="1.0080000000000002" stroke-linejoin="round" stroke-linecap="round"/>
<path d="M700,415.3 L690.6,426.5 L700,426.5" fill="none" stroke="#1e1e1e" stroke-width="1.2320000000000002" stroke-linejoin="round" stroke-linecap="round"/>
<path d="M700,552 Q695,558 700,565" fill="none" stroke="#1e1e1e" stroke-width="1.4560000000000002" stroke-linejoin="round" stroke-linecap="round"/>
<circle cx="697" cy="633" r="2.5" fill="#1e1e1e"/>
<line x1="220.8" y1="106.9" x2="228.2" y2="137.1" stroke="#1e1e1e" stroke-width="1.2"/>
<circle cx="218.5" cy="97.7" r="9.5" fill="#fff" stroke="#1e1e1e" stroke-width="1.6"/>
<path d="M3.6,0 L0.5,0 L0.2,3.2 C0.7,2.9 1.3,2.75 1.9,2.75 C3.2,2.75 3.9,3.6 3.9,4.95 C3.9,6.4 3.0,7.3 1.8,7.3 C1.1,7.3 0.5,7.1 0,6.6" transform="matrix(0.9660,0,0,1.05,213.34,93.87)" fill="none" stroke="#161616" stroke-width="1.9" stroke-linecap="round" stroke-linejoin="round"/><path d="M1.95,0 C3.2,0 3.9,1.4 3.9,3.65 C3.9,5.9 3.2,7.3 1.95,7.3 C0.7,7.3 0,5.9 0,3.65 C0,1.4 0.7,0 1.95,0 Z" transform="matrix(0.9660,0,0,1.05,219.90,93.87)" fill="none" stroke="#161616" stroke-width="1.9" stroke-linecap="round" stroke-linejoin="round"/>
<line x1="266.6" y1="106.7" x2="255" y2="140" stroke="#1e1e1e" stroke-width="1.2"/>
<circle cx="269.7" cy="97.7" r="9.5" fill="#fff" stroke="#1e1e1e" stroke-width="1.6"/>
<path d="M0.15,1.4 C0.4,0.5 1.1,0 1.95,0 C3.1,0 3.8,0.8 3.8,1.9 C3.8,2.9 3.2,3.6 2.3,4.5 L0,7.3 L3.9,7.3" transform="matrix(0.9660,0,0,1.05,267.82,93.87)" fill="none" stroke="#161616" stroke-width="1.9" stroke-linecap="round" stroke-linejoin="round"/>
<line x1="435.2" y1="98.1" x2="462.5" y2="118" stroke="#1e1e1e" stroke-width="1.2"/>
<circle cx="427.5" cy="92.5" r="9.5" fill="#fff" stroke="#1e1e1e" stroke-width="1.6"/>
<path d="M0.2,1.6 L1.7,0 L1.7,7.3" transform="matrix(0.9660,0,0,1.05,426.58,88.67)" fill="none" stroke="#161616" stroke-width="1.9" stroke-linecap="round" stroke-linejoin="round"/>
<line x1="399.7" y1="136.9" x2="428.6" y2="180.7" stroke="#1e1e1e" stroke-width="1.2"/>
<circle cx="394.5" cy="129" r="9.5" fill="#fff" stroke="#1e1e1e" stroke-width="1.6"/>
<path d="M1.5,0.4 L0.1,5.2 L4.1,5.2 M3.1,2.9 L3.1,7.3" transform="matrix(0.9660,0,0,1.05,392.42,125.17)" fill="none" stroke="#161616" stroke-width="1.9" stroke-linecap="round" stroke-linejoin="round"/>
<line x1="423.6" y1="137.8" x2="442" y2="183" stroke="#1e1e1e" stroke-width="1.2"/>
<circle cx="420" cy="129" r="9.5" fill="#fff" stroke="#1e1e1e" stroke-width="1.6"/>
<path d="M3.6,0 L0.5,0 L0.2,3.2 C0.7,2.9 1.3,2.75 1.9,2.75 C3.2,2.75 3.9,3.6 3.9,4.95 C3.9,6.4 3.0,7.3 1.8,7.3 C1.1,7.3 0.5,7.1 0,6.6" transform="matrix(0.9660,0,0,1.05,418.12,125.17)" fill="none" stroke="#161616" stroke-width="1.9" stroke-linecap="round" stroke-linejoin="round"/>
<line x1="492.5" y1="172.6" x2="480" y2="189" stroke="#1e1e1e" stroke-width="1.2"/>
<circle cx="498.3" cy="165" r="9.5" fill="#fff" stroke="#1e1e1e" stroke-width="1.6"/>
<path d="M3.6,0 L0.5,0 L0.2,3.2 C0.7,2.9 1.3,2.75 1.9,2.75 C3.2,2.75 3.9,3.6 3.9,4.95 C3.9,6.4 3.0,7.3 1.8,7.3 C1.1,7.3 0.5,7.1 0,6.6" transform="matrix(0.9660,0,0,1.05,496.42,161.17)" fill="none" stroke="#161616" stroke-width="1.9" stroke-linecap="round" stroke-linejoin="round"/>
<line x1="659.8" y1="120.0" x2="642.9" y2="95" stroke="#1e1e1e" stroke-width="1.2"/>
<circle cx="665.1" cy="127.9" r="9.5" fill="#fff" stroke="#1e1e1e" stroke-width="1.6"/>
<path d="M0.2,1.6 L1.7,0 L1.7,7.3" transform="matrix(0.9660,0,0,1.05,662.06,124.07)" fill="none" stroke="#161616" stroke-width="1.9" stroke-linecap="round" stroke-linejoin="round"/><path d="M0.2,1.6 L1.7,0 L1.7,7.3" transform="matrix(0.9660,0,0,1.05,666.30,124.07)" fill="none" stroke="#161616" stroke-width="1.9" stroke-linecap="round" stroke-linejoin="round"/>
<line x1="594.1" y1="134.1" x2="577.4" y2="111.5" stroke="#1e1e1e" stroke-width="1.2"/>
<circle cx="599.7" cy="141.8" r="9.5" fill="#fff" stroke="#1e1e1e" stroke-width="1.6"/>
<path d="M0.2,1.6 L1.7,0 L1.7,7.3" transform="matrix(0.9660,0,0,1.05,595.50,137.97)" fill="none" stroke="#161616" stroke-width="1.9" stroke-linecap="round" stroke-linejoin="round"/><path d="M1.95,0 C3.2,0 3.9,1.4 3.9,3.65 C3.9,5.9 3.2,7.3 1.95,7.3 C0.7,7.3 0,5.9 0,3.65 C0,1.4 0.7,0 1.95,0 Z" transform="matrix(0.9660,0,0,1.05,599.94,137.97)" fill="none" stroke="#161616" stroke-width="1.9" stroke-linecap="round" stroke-linejoin="round"/>
<line x1="536.4" y1="164.3" x2="517" y2="146.4" stroke="#1e1e1e" stroke-width="1.2"/>
<circle cx="543.4" cy="170.7" r="9.5" fill="#fff" stroke="#1e1e1e" stroke-width="1.6"/>
<path d="M0.4,6.7 C0.8,7.1 1.4,7.3 1.9,7.3 C3.2,7.3 3.9,5.7 3.9,3.3 C3.9,1.1 3.2,0 1.95,0 C0.7,0 0,1.0 0,2.3 C0,3.6 0.8,4.4 1.95,4.4 C2.9,4.4 3.6,3.8 3.9,3.0" transform="matrix(0.9660,0,0,1.05,541.52,166.87)" fill="none" stroke="#161616" stroke-width="1.9" stroke-linecap="round" stroke-linejoin="round"/>
<line x1="691.6" y1="161.5" x2="700" y2="178" stroke="#1e1e1e" stroke-width="1.2"/>
<circle cx="687.3" cy="153" r="9.5" fill="#fff" stroke="#1e1e1e" stroke-width="1.6"/>
<path d="M0.4,6.7 C0.8,7.1 1.4,7.3 1.9,7.3 C3.2,7.3 3.9,5.7 3.9,3.3 C3.9,1.1 3.2,0 1.95,0 C0.7,0 0,1.0 0,2.3 C0,3.6 0.8,4.4 1.95,4.4 C2.9,4.4 3.6,3.8 3.9,3.0" transform="matrix(0.9660,0,0,1.05,685.42,149.17)" fill="none" stroke="#161616" stroke-width="1.9" stroke-linecap="round" stroke-linejoin="round"/>
<line x1="187.0" y1="155.0" x2="213.2" y2="171" stroke="#1e1e1e" stroke-width="1.2"/>
<circle cx="178.9" cy="150" r="9.5" fill="#fff" stroke="#1e1e1e" stroke-width="1.6"/>
<path d="M0.2,1.6 L1.7,0 L1.7,7.3" transform="matrix(0.9660,0,0,1.05,174.70,146.17)" fill="none" stroke="#161616" stroke-width="1.9" stroke-linecap="round" stroke-linejoin="round"/><path d="M0.15,1.4 C0.4,0.5 1.1,0 1.95,0 C3.1,0 3.8,0.8 3.8,1.9 C3.8,2.9 3.2,3.6 2.3,4.5 L0,7.3 L3.9,7.3" transform="matrix(0.9660,0,0,1.05,179.14,146.17)" fill="none" stroke="#161616" stroke-width="1.9" stroke-linecap="round" stroke-linejoin="round"/>
<line x1="163.3" y1="177.4" x2="177.9" y2="205.7" stroke="#1e1e1e" stroke-width="1.2"/>
<circle cx="159" cy="169" r="9.5" fill="#fff" stroke="#1e1e1e" stroke-width="1.6"/>
<path d="M0.2,1.6 L1.7,0 L1.7,7.3" transform="matrix(0.9660,0,0,1.05,154.80,165.17)" fill="none" stroke="#161616" stroke-width="1.9" stroke-linecap="round" stroke-linejoin="round"/><path d="M0.2,0.7 C0.7,0.2 1.3,0 1.9,0 C3.1,0 3.7,0.8 3.7,1.8 C3.7,2.9 2.9,3.5 1.6,3.5 C3.1,3.5 3.9,4.3 3.9,5.4 C3.9,6.6 3.0,7.3 1.8,7.3 C1.1,7.3 0.5,7.1 0,6.6" transform="matrix(0.9660,0,0,1.05,159.24,165.17)" fill="none" stroke="#161616" stroke-width="1.9" stroke-linecap="round" stroke-linejoin="round"/>
<line x1="213.1" y1="236.6" x2="202.5" y2="216.4" stroke="#1e1e1e" stroke-width="1.2"/>
<circle cx="217.5" cy="245" r="9.5" fill="#fff" stroke="#1e1e1e" stroke-width="1.6"/>
<path d="M0.2,1.6 L1.7,0 L1.7,7.3" transform="matrix(0.9660,0,0,1.05,213.30,241.17)" fill="none" stroke="#161616" stroke-width="1.9" stroke-linecap="round" stroke-linejoin="round"/><path d="M0.2,0.7 C0.7,0.2 1.3,0 1.9,0 C3.1,0 3.7,0.8 3.7,1.8 C3.7,2.9 2.9,3.5 1.6,3.5 C3.1,3.5 3.9,4.3 3.9,5.4 C3.9,6.6 3.0,7.3 1.8,7.3 C1.1,7.3 0.5,7.1 0,6.6" transform="matrix(0.9660,0,0,1.05,217.74,241.17)" fill="none" stroke="#161616" stroke-width="1.9" stroke-linecap="round" stroke-linejoin="round"/>
<line x1="59.3" y1="282.2" x2="81" y2="293" stroke="#1e1e1e" stroke-width="1.2"/>
<circle cx="50.8" cy="278" r="9.5" fill="#fff" stroke="#1e1e1e" stroke-width="1.6"/>
<path d="M0.2,1.6 L1.7,0 L1.7,7.3" transform="matrix(0.9660,0,0,1.05,46.60,274.17)" fill="none" stroke="#161616" stroke-width="1.9" stroke-linecap="round" stroke-linejoin="round"/><path d="M3.6,0 L0.5,0 L0.2,3.2 C0.7,2.9 1.3,2.75 1.9,2.75 C3.2,2.75 3.9,3.6 3.9,4.95 C3.9,6.4 3.0,7.3 1.8,7.3 C1.1,7.3 0.5,7.1 0,6.6" transform="matrix(0.9660,0,0,1.05,51.04,274.17)" fill="none" stroke="#161616" stroke-width="1.9" stroke-linecap="round" stroke-linejoin="round"/>
<line x1="118.8" y1="335.0" x2="103.5" y2="303" stroke="#1e1e1e" stroke-width="1.2"/>
<circle cx="122.9" cy="343.6" r="9.5" fill="#fff" stroke="#1e1e1e" stroke-width="1.6"/>
<path d="M0.2,1.6 L1.7,0 L1.7,7.3" transform="matrix(0.9660,0,0,1.05,118.70,339.77)" fill="none" stroke="#161616" stroke-width="1.9" stroke-linecap="round" stroke-linejoin="round"/><path d="M3.5,0.5 C3.1,0.2 2.5,0 2.0,0 C0.7,0 0,1.6 0,4.0 C0,6.2 0.7,7.3 1.95,7.3 C3.2,7.3 3.9,6.3 3.9,5.0 C3.9,3.7 3.1,2.9 1.95,2.9 C1.0,2.9 0.3,3.5 0,4.3" transform="matrix(0.9660,0,0,1.05,123.14,339.77)" fill="none" stroke="#161616" stroke-width="1.9" stroke-linecap="round" stroke-linejoin="round"/>
<line x1="93.5" y1="358.5" x2="50" y2="351.4" stroke="#1e1e1e" stroke-width="1.2"/>
<circle cx="102.9" cy="360" r="9.5" fill="#fff" stroke="#1e1e1e" stroke-width="1.6"/>
<path d="M1.5,0.4 L0.1,5.2 L4.1,5.2 M3.1,2.9 L3.1,7.3" transform="matrix(0.9660,0,0,1.05,97.54,356.17)" fill="none" stroke="#161616" stroke-width="1.9" stroke-linecap="round" stroke-linejoin="round"/><path d="M1.95,3.4 C0.9,3.4 0.3,2.7 0.3,1.7 C0.3,0.7 1.0,0 1.95,0 C2.9,0 3.6,0.7 3.6,1.7 C3.6,2.7 3.0,3.4 1.95,3.4 C0.8,3.4 0,4.2 0,5.3 C0,6.5 0.8,7.3 1.95,7.3 C3.1,7.3 3.9,6.5 3.9,5.3 C3.9,4.2 3.1,3.4 1.95,3.4 Z" transform="matrix(0.9660,0,0,1.05,104.39,356.17)" fill="none" stroke="#161616" stroke-width="1.9" stroke-linecap="round" stroke-linejoin="round"/>
<line x1="662.2" y1="187.5" x2="694" y2="210" stroke="#1e1e1e" stroke-width="1.2"/>
<circle cx="654.4" cy="182" r="9.5" fill="#fff" stroke="#1e1e1e" stroke-width="1.6"/>
<path d="M0.15,1.4 C0.4,0.5 1.1,0 1.95,0 C3.1,0 3.8,0.8 3.8,1.9 C3.8,2.9 3.2,3.6 2.3,4.5 L0,7.3 L3.9,7.3" transform="matrix(0.9660,0,0,1.05,649.24,178.17)" fill="none" stroke="#161616" stroke-width="1.9" stroke-linecap="round" stroke-linejoin="round"/><path d="M1.95,3.4 C0.9,3.4 0.3,2.7 0.3,1.7 C0.3,0.7 1.0,0 1.95,0 C2.9,0 3.6,0.7 3.6,1.7 C3.6,2.7 3.0,3.4 1.95,3.4 C0.8,3.4 0,4.2 0,5.3 C0,6.5 0.8,7.3 1.95,7.3 C3.1,7.3 3.9,6.5 3.9,5.3 C3.9,4.2 3.1,3.4 1.95,3.4 Z" transform="matrix(0.9660,0,0,1.05,655.80,178.17)" fill="none" stroke="#161616" stroke-width="1.9" stroke-linecap="round" stroke-linejoin="round"/>
<line x1="663.2" y1="214.1" x2="700" y2="229" stroke="#1e1e1e" stroke-width="1.2"/>
<circle cx="654.4" cy="210.5" r="9.5" fill="#fff" stroke="#1e1e1e" stroke-width="1.6"/>
<path d="M0.2,0.7 C0.7,0.2 1.3,0 1.9,0 C3.1,0 3.7,0.8 3.7,1.8 C3.7,2.9 2.9,3.5 1.6,3.5 C3.1,3.5 3.9,4.3 3.9,5.4 C3.9,6.6 3.0,7.3 1.8,7.3 C1.1,7.3 0.5,7.1 0,6.6" transform="matrix(0.9660,0,0,1.05,649.24,206.67)" fill="none" stroke="#161616" stroke-width="1.9" stroke-linecap="round" stroke-linejoin="round"/><path d="M0,0 L3.9,0 C2.6,2.0 1.9,4.3 1.6,7.3" transform="matrix(0.9660,0,0,1.05,655.80,206.67)" fill="none" stroke="#161616" stroke-width="1.9" stroke-linecap="round" stroke-linejoin="round"/>
<line x1="584.7" y1="235.7" x2="561" y2="221" stroke="#1e1e1e" stroke-width="1.2"/>
<circle cx="592.8" cy="240.7" r="9.5" fill="#fff" stroke="#1e1e1e" stroke-width="1.6"/>
<path d="M1.5,0.4 L0.1,5.2 L4.1,5.2 M3.1,2.9 L3.1,7.3" transform="matrix(0.9660,0,0,1.05,590.72,236.87)" fill="none" stroke="#161616" stroke-width="1.9" stroke-linecap="round" stroke-linejoin="round"/>
<line x1="637.9" y1="238.7" x2="666" y2="234" stroke="#1e1e1e" stroke-width="1.2"/>
<circle cx="628.5" cy="240.3" r="9.5" fill="#fff" stroke="#1e1e1e" stroke-width="1.6"/>
<path d="M1.5,0.4 L0.1,5.2 L4.1,5.2 M3.1,2.9 L3.1,7.3" transform="matrix(0.9660,0,0,1.05,626.42,236.47)" fill="none" stroke="#161616" stroke-width="1.9" stroke-linecap="round" stroke-linejoin="round"/>
<line x1="587.6" y1="270.3" x2="554.1" y2="269.6" stroke="#1e1e1e" stroke-width="1.2"/>
<circle cx="597.1" cy="270.5" r="9.5" fill="#fff" stroke="#1e1e1e" stroke-width="1.6"/>
<path d="M1.95,3.4 C0.9,3.4 0.3,2.7 0.3,1.7 C0.3,0.7 1.0,0 1.95,0 C2.9,0 3.6,0.7 3.6,1.7 C3.6,2.7 3.0,3.4 1.95,3.4 C0.8,3.4 0,4.2 0,5.3 C0,6.5 0.8,7.3 1.95,7.3 C3.1,7.3 3.9,6.5 3.9,5.3 C3.9,4.2 3.1,3.4 1.95,3.4 Z" transform="matrix(0.9660,0,0,1.05,595.22,266.67)" fill="none" stroke="#161616" stroke-width="1.9" stroke-linecap="round" stroke-linejoin="round"/>
<line x1="561.0" y1="289.6" x2="529.6" y2="281.6" stroke="#1e1e1e" stroke-width="1.2"/>
<circle cx="570.2" cy="292" r="9.5" fill="#fff" stroke="#1e1e1e" stroke-width="1.6"/>
<path d="M0.2,0.7 C0.7,0.2 1.3,0 1.9,0 C3.1,0 3.7,0.8 3.7,1.8 C3.7,2.9 2.9,3.5 1.6,3.5 C3.1,3.5 3.9,4.3 3.9,5.4 C3.9,6.6 3.0,7.3 1.8,7.3 C1.1,7.3 0.5,7.1 0,6.6" transform="matrix(0.9660,0,0,1.05,565.04,288.17)" fill="none" stroke="#161616" stroke-width="1.9" stroke-linecap="round" stroke-linejoin="round"/><path d="M1.95,3.4 C0.9,3.4 0.3,2.7 0.3,1.7 C0.3,0.7 1.0,0 1.95,0 C2.9,0 3.6,0.7 3.6,1.7 C3.6,2.7 3.0,3.4 1.95,3.4 C0.8,3.4 0,4.2 0,5.3 C0,6.5 0.8,7.3 1.95,7.3 C3.1,7.3 3.9,6.5 3.9,5.3 C3.9,4.2 3.1,3.4 1.95,3.4 Z" transform="matrix(0.9660,0,0,1.05,571.60,288.17)" fill="none" stroke="#161616" stroke-width="1.9" stroke-linecap="round" stroke-linejoin="round"/>
<line x1="387.1" y1="254.5" x2="393.6" y2="234.3" stroke="#1e1e1e" stroke-width="1.2"/>
<circle cx="384.2" cy="263.5" r="9.5" fill="#fff" stroke="#1e1e1e" stroke-width="1.6"/>
<path d="M3.5,0.5 C3.1,0.2 2.5,0 2.0,0 C0.7,0 0,1.6 0,4.0 C0,6.2 0.7,7.3 1.95,7.3 C3.2,7.3 3.9,6.3 3.9,5.0 C3.9,3.7 3.1,2.9 1.95,2.9 C1.0,2.9 0.3,3.5 0,4.3" transform="matrix(0.9660,0,0,1.05,382.32,259.67)" fill="none" stroke="#161616" stroke-width="1.9" stroke-linecap="round" stroke-linejoin="round"/>
<line x1="416.1" y1="254.8" x2="407.9" y2="235.7" stroke="#1e1e1e" stroke-width="1.2"/>
<circle cx="419.8" cy="263.5" r="9.5" fill="#fff" stroke="#1e1e1e" stroke-width="1.6"/>
<path d="M0,0 L3.9,0 C2.6,2.0 1.9,4.3 1.6,7.3" transform="matrix(0.9660,0,0,1.05,417.92,259.67)" fill="none" stroke="#161616" stroke-width="1.9" stroke-linecap="round" stroke-linejoin="round"/>
<line x1="381.0" y1="307.7" x2="424.3" y2="300" stroke="#1e1e1e" stroke-width="1.2"/>
<circle cx="371.6" cy="309.4" r="9.5" fill="#fff" stroke="#1e1e1e" stroke-width="1.6"/>
<path d="M1.5,0.4 L0.1,5.2 L4.1,5.2 M3.1,2.9 L3.1,7.3" transform="matrix(0.9660,0,0,1.05,367.40,305.57)" fill="none" stroke="#161616" stroke-width="1.9" stroke-linecap="round" stroke-linejoin="round"/><path d="M0.2,1.6 L1.7,0 L1.7,7.3" transform="matrix(0.9660,0,0,1.05,374.06,305.57)" fill="none" stroke="#161616" stroke-width="1.9" stroke-linecap="round" stroke-linejoin="round"/>
<line x1="676.0" y1="307.1" x2="659.5" y2="276.5" stroke="#1e1e1e" stroke-width="1.2"/>
<circle cx="680.5" cy="315.5" r="9.5" fill="#fff" stroke="#1e1e1e" stroke-width="1.6"/>
<path d="M1.5,0.4 L0.1,5.2 L4.1,5.2 M3.1,2.9 L3.1,7.3" transform="matrix(0.9660,0,0,1.05,675.14,311.67)" fill="none" stroke="#161616" stroke-width="1.9" stroke-linecap="round" stroke-linejoin="round"/><path d="M0.15,1.4 C0.4,0.5 1.1,0 1.95,0 C3.1,0 3.8,0.8 3.8,1.9 C3.8,2.9 3.2,3.6 2.3,4.5 L0,7.3 L3.9,7.3" transform="matrix(0.9660,0,0,1.05,681.99,311.67)" fill="none" stroke="#161616" stroke-width="1.9" stroke-linecap="round" stroke-linejoin="round"/>
<line x1="402.6" y1="340.1" x2="398.6" y2="352.9" stroke="#1e1e1e" stroke-width="1.2"/>
<circle cx="405.5" cy="331" r="9.5" fill="#fff" stroke="#1e1e1e" stroke-width="1.6"/>
<path d="M0.2,0.7 C0.7,0.2 1.3,0 1.9,0 C3.1,0 3.7,0.8 3.7,1.8 C3.7,2.9 2.9,3.5 1.6,3.5 C3.1,3.5 3.9,4.3 3.9,5.4 C3.9,6.6 3.0,7.3 1.8,7.3 C1.1,7.3 0.5,7.1 0,6.6" transform="matrix(0.9660,0,0,1.05,400.34,327.17)" fill="none" stroke="#161616" stroke-width="1.9" stroke-linecap="round" stroke-linejoin="round"/><path d="M0.4,6.7 C0.8,7.1 1.4,7.3 1.9,7.3 C3.2,7.3 3.9,5.7 3.9,3.3 C3.9,1.1 3.2,0 1.95,0 C0.7,0 0,1.0 0,2.3 C0,3.6 0.8,4.4 1.95,4.4 C2.9,4.4 3.6,3.8 3.9,3.0" transform="matrix(0.9660,0,0,1.05,406.90,327.17)" fill="none" stroke="#161616" stroke-width="1.9" stroke-linecap="round" stroke-linejoin="round"/>
<line x1="429.0" y1="339.6" x2="421.4" y2="355.7" stroke="#1e1e1e" stroke-width="1.2"/>
<circle cx="433" cy="331" r="9.5" fill="#fff" stroke="#1e1e1e" stroke-width="1.6"/>
<path d="M1.5,0.4 L0.1,5.2 L4.1,5.2 M3.1,2.9 L3.1,7.3" transform="matrix(0.9660,0,0,1.05,427.64,327.17)" fill="none" stroke="#161616" stroke-width="1.9" stroke-linecap="round" stroke-linejoin="round"/><path d="M1.95,0 C3.2,0 3.9,1.4 3.9,3.65 C3.9,5.9 3.2,7.3 1.95,7.3 C0.7,7.3 0,5.9 0,3.65 C0,1.4 0.7,0 1.95,0 Z" transform="matrix(0.9660,0,0,1.05,434.49,327.17)" fill="none" stroke="#161616" stroke-width="1.9" stroke-linecap="round" stroke-linejoin="round"/>
<line x1="480.6" y1="348.9" x2="469" y2="371" stroke="#1e1e1e" stroke-width="1.2"/>
<circle cx="485" cy="340.5" r="9.5" fill="#fff" stroke="#1e1e1e" stroke-width="1.6"/>
<path d="M0.2,1.6 L1.7,0 L1.7,7.3" transform="matrix(0.9660,0,0,1.05,480.80,336.67)" fill="none" stroke="#161616" stroke-width="1.9" stroke-linecap="round" stroke-linejoin="round"/><path d="M0,0 L3.9,0 C2.6,2.0 1.9,4.3 1.6,7.3" transform="matrix(0.9660,0,0,1.05,485.24,336.67)" fill="none" stroke="#161616" stroke-width="1.9" stroke-linecap="round" stroke-linejoin="round"/>
<line x1="575.4" y1="370.8" x2="568.9" y2="386.3" stroke="#1e1e1e" stroke-width="1.2"/>
<circle cx="579.1" cy="362" r="9.5" fill="#fff" stroke="#1e1e1e" stroke-width="1.6"/>
<path d="M0.2,0.7 C0.7,0.2 1.3,0 1.9,0 C3.1,0 3.7,0.8 3.7,1.8 C3.7,2.9 2.9,3.5 1.6,3.5 C3.1,3.5 3.9,4.3 3.9,5.4 C3.9,6.6 3.0,7.3 1.8,7.3 C1.1,7.3 0.5,7.1 0,6.6" transform="matrix(0.9660,0,0,1.05,573.94,358.17)" fill="none" stroke="#161616" stroke-width="1.9" stroke-linecap="round" stroke-linejoin="round"/><path d="M0.4,6.7 C0.8,7.1 1.4,7.3 1.9,7.3 C3.2,7.3 3.9,5.7 3.9,3.3 C3.9,1.1 3.2,0 1.95,0 C0.7,0 0,1.0 0,2.3 C0,3.6 0.8,4.4 1.95,4.4 C2.9,4.4 3.6,3.8 3.9,3.0" transform="matrix(0.9660,0,0,1.05,580.50,358.17)" fill="none" stroke="#161616" stroke-width="1.9" stroke-linecap="round" stroke-linejoin="round"/>
<line x1="611.5" y1="372.2" x2="603.6" y2="403" stroke="#1e1e1e" stroke-width="1.2"/>
<circle cx="613.9" cy="363" r="9.5" fill="#fff" stroke="#1e1e1e" stroke-width="1.6"/>
<path d="M1.5,0.4 L0.1,5.2 L4.1,5.2 M3.1,2.9 L3.1,7.3" transform="matrix(0.9660,0,0,1.05,608.54,359.17)" fill="none" stroke="#161616" stroke-width="1.9" stroke-linecap="round" stroke-linejoin="round"/><path d="M1.95,0 C3.2,0 3.9,1.4 3.9,3.65 C3.9,5.9 3.2,7.3 1.95,7.3 C0.7,7.3 0,5.9 0,3.65 C0,1.4 0.7,0 1.95,0 Z" transform="matrix(0.9660,0,0,1.05,615.39,359.17)" fill="none" stroke="#161616" stroke-width="1.9" stroke-linecap="round" stroke-linejoin="round"/>
<line x1="533.3" y1="415.5" x2="520" y2="424.9" stroke="#1e1e1e" stroke-width="1.2"/>
<circle cx="541.1" cy="410" r="9.5" fill="#fff" stroke="#1e1e1e" stroke-width="1.6"/>
<path d="M0.2,0.7 C0.7,0.2 1.3,0 1.9,0 C3.1,0 3.7,0.8 3.7,1.8 C3.7,2.9 2.9,3.5 1.6,3.5 C3.1,3.5 3.9,4.3 3.9,5.4 C3.9,6.6 3.0,7.3 1.8,7.3 C1.1,7.3 0.5,7.1 0,6.6" transform="matrix(0.9660,0,0,1.05,535.94,406.17)" fill="none" stroke="#161616" stroke-width="1.9" stroke-linecap="round" stroke-linejoin="round"/><path d="M0.4,6.7 C0.8,7.1 1.4,7.3 1.9,7.3 C3.2,7.3 3.9,5.7 3.9,3.3 C3.9,1.1 3.2,0 1.95,0 C0.7,0 0,1.0 0,2.3 C0,3.6 0.8,4.4 1.95,4.4 C2.9,4.4 3.6,3.8 3.9,3.0" transform="matrix(0.9660,0,0,1.05,542.50,406.17)" fill="none" stroke="#161616" stroke-width="1.9" stroke-linecap="round" stroke-linejoin="round"/>
<line x1="565.3" y1="430.2" x2="550.9" y2="441.6" stroke="#1e1e1e" stroke-width="1.2"/>
<circle cx="572.7" cy="424.3" r="9.5" fill="#fff" stroke="#1e1e1e" stroke-width="1.6"/>
<path d="M1.5,0.4 L0.1,5.2 L4.1,5.2 M3.1,2.9 L3.1,7.3" transform="matrix(0.9660,0,0,1.05,567.34,420.47)" fill="none" stroke="#161616" stroke-width="1.9" stroke-linecap="round" stroke-linejoin="round"/><path d="M1.95,0 C3.2,0 3.9,1.4 3.9,3.65 C3.9,5.9 3.2,7.3 1.95,7.3 C0.7,7.3 0,5.9 0,3.65 C0,1.4 0.7,0 1.95,0 Z" transform="matrix(0.9660,0,0,1.05,574.19,420.47)" fill="none" stroke="#161616" stroke-width="1.9" stroke-linecap="round" stroke-linejoin="round"/>
<line x1="382.5" y1="420.0" x2="382" y2="402" stroke="#1e1e1e" stroke-width="1.2"/>
<circle cx="382.7" cy="429.5" r="9.5" fill="#fff" stroke="#1e1e1e" stroke-width="1.6"/>
<path d="M0.2,0.7 C0.7,0.2 1.3,0 1.9,0 C3.1,0 3.7,0.8 3.7,1.8 C3.7,2.9 2.9,3.5 1.6,3.5 C3.1,3.5 3.9,4.3 3.9,5.4 C3.9,6.6 3.0,7.3 1.8,7.3 C1.1,7.3 0.5,7.1 0,6.6" transform="matrix(0.9660,0,0,1.05,377.54,425.67)" fill="none" stroke="#161616" stroke-width="1.9" stroke-linecap="round" stroke-linejoin="round"/><path d="M0.4,6.7 C0.8,7.1 1.4,7.3 1.9,7.3 C3.2,7.3 3.9,5.7 3.9,3.3 C3.9,1.1 3.2,0 1.95,0 C0.7,0 0,1.0 0,2.3 C0,3.6 0.8,4.4 1.95,4.4 C2.9,4.4 3.6,3.8 3.9,3.0" transform="matrix(0.9660,0,0,1.05,384.10,425.67)" fill="none" stroke="#161616" stroke-width="1.9" stroke-linecap="round" stroke-linejoin="round"/>
<line x1="409.7" y1="420.0" x2="408" y2="403" stroke="#1e1e1e" stroke-width="1.2"/>
<circle cx="410.7" cy="429.5" r="9.5" fill="#fff" stroke="#1e1e1e" stroke-width="1.6"/>
<path d="M1.5,0.4 L0.1,5.2 L4.1,5.2 M3.1,2.9 L3.1,7.3" transform="matrix(0.9660,0,0,1.05,405.34,425.67)" fill="none" stroke="#161616" stroke-width="1.9" stroke-linecap="round" stroke-linejoin="round"/><path d="M1.95,0 C3.2,0 3.9,1.4 3.9,3.65 C3.9,5.9 3.2,7.3 1.95,7.3 C0.7,7.3 0,5.9 0,3.65 C0,1.4 0.7,0 1.95,0 Z" transform="matrix(0.9660,0,0,1.05,412.19,425.67)" fill="none" stroke="#161616" stroke-width="1.9" stroke-linecap="round" stroke-linejoin="round"/>
<line x1="297.3" y1="462.5" x2="345.7" y2="460.7" stroke="#1e1e1e" stroke-width="1.2"/>
<circle cx="287.8" cy="462.8" r="9.5" fill="#fff" stroke="#1e1e1e" stroke-width="1.6"/>
<path d="M1.5,0.4 L0.1,5.2 L4.1,5.2 M3.1,2.9 L3.1,7.3" transform="matrix(0.9660,0,0,1.05,282.44,458.97)" fill="none" stroke="#161616" stroke-width="1.9" stroke-linecap="round" stroke-linejoin="round"/><path d="M3.5,0.5 C3.1,0.2 2.5,0 2.0,0 C0.7,0 0,1.6 0,4.0 C0,6.2 0.7,7.3 1.95,7.3 C3.2,7.3 3.9,6.3 3.9,5.0 C3.9,3.7 3.1,2.9 1.95,2.9 C1.0,2.9 0.3,3.5 0,4.3" transform="matrix(0.9660,0,0,1.05,289.29,458.97)" fill="none" stroke="#161616" stroke-width="1.9" stroke-linecap="round" stroke-linejoin="round"/>
<line x1="20.6" y1="424.8" x2="71.5" y2="434.4" stroke="#1e1e1e" stroke-width="1.2"/>
<circle cx="11.3" cy="423" r="9.5" fill="#fff" stroke="#1e1e1e" stroke-width="1.6"/>
<path d="M0.2,1.6 L1.7,0 L1.7,7.3" transform="matrix(0.9660,0,0,1.05,7.10,419.17)" fill="none" stroke="#161616" stroke-width="1.9" stroke-linecap="round" stroke-linejoin="round"/><path d="M1.95,3.4 C0.9,3.4 0.3,2.7 0.3,1.7 C0.3,0.7 1.0,0 1.95,0 C2.9,0 3.6,0.7 3.6,1.7 C3.6,2.7 3.0,3.4 1.95,3.4 C0.8,3.4 0,4.2 0,5.3 C0,6.5 0.8,7.3 1.95,7.3 C3.1,7.3 3.9,6.5 3.9,5.3 C3.9,4.2 3.1,3.4 1.95,3.4 Z" transform="matrix(0.9660,0,0,1.05,11.54,419.17)" fill="none" stroke="#161616" stroke-width="1.9" stroke-linecap="round" stroke-linejoin="round"/>
<line x1="20.8" y1="448.1" x2="69.6" y2="452.4" stroke="#1e1e1e" stroke-width="1.2"/>
<circle cx="11.3" cy="447.3" r="9.5" fill="#fff" stroke="#1e1e1e" stroke-width="1.6"/>
<path d="M0.15,1.4 C0.4,0.5 1.1,0 1.95,0 C3.1,0 3.8,0.8 3.8,1.9 C3.8,2.9 3.2,3.6 2.3,4.5 L0,7.3 L3.9,7.3" transform="matrix(0.9660,0,0,1.05,7.29,443.47)" fill="none" stroke="#161616" stroke-width="1.9" stroke-linecap="round" stroke-linejoin="round"/><path d="M0.2,1.6 L1.7,0 L1.7,7.3" transform="matrix(0.9660,0,0,1.05,13.66,443.47)" fill="none" stroke="#161616" stroke-width="1.9" stroke-linecap="round" stroke-linejoin="round"/>
<line x1="20.6" y1="474.1" x2="49.6" y2="480.7" stroke="#1e1e1e" stroke-width="1.2"/>
<circle cx="11.3" cy="472" r="9.5" fill="#fff" stroke="#1e1e1e" stroke-width="1.6"/>
<path d="M0.15,1.4 C0.4,0.5 1.1,0 1.95,0 C3.1,0 3.8,0.8 3.8,1.9 C3.8,2.9 3.2,3.6 2.3,4.5 L0,7.3 L3.9,7.3" transform="matrix(0.9660,0,0,1.05,6.14,468.17)" fill="none" stroke="#161616" stroke-width="1.9" stroke-linecap="round" stroke-linejoin="round"/><path d="M0.15,1.4 C0.4,0.5 1.1,0 1.95,0 C3.1,0 3.8,0.8 3.8,1.9 C3.8,2.9 3.2,3.6 2.3,4.5 L0,7.3 L3.9,7.3" transform="matrix(0.9660,0,0,1.05,12.70,468.17)" fill="none" stroke="#161616" stroke-width="1.9" stroke-linecap="round" stroke-linejoin="round"/>
<line x1="18.9" y1="503.3" x2="42.9" y2="521" stroke="#1e1e1e" stroke-width="1.2"/>
<circle cx="11.3" cy="497.7" r="9.5" fill="#fff" stroke="#1e1e1e" stroke-width="1.6"/>
<path d="M0.15,1.4 C0.4,0.5 1.1,0 1.95,0 C3.1,0 3.8,0.8 3.8,1.9 C3.8,2.9 3.2,3.6 2.3,4.5 L0,7.3 L3.9,7.3" transform="matrix(0.9660,0,0,1.05,6.14,493.87)" fill="none" stroke="#161616" stroke-width="1.9" stroke-linecap="round" stroke-linejoin="round"/><path d="M0.2,0.7 C0.7,0.2 1.3,0 1.9,0 C3.1,0 3.7,0.8 3.7,1.8 C3.7,2.9 2.9,3.5 1.6,3.5 C3.1,3.5 3.9,4.3 3.9,5.4 C3.9,6.6 3.0,7.3 1.8,7.3 C1.1,7.3 0.5,7.1 0,6.6" transform="matrix(0.9660,0,0,1.05,12.70,493.87)" fill="none" stroke="#161616" stroke-width="1.9" stroke-linecap="round" stroke-linejoin="round"/>
<line x1="176.9" y1="430.4" x2="167.1" y2="458.6" stroke="#1e1e1e" stroke-width="1.2"/>
<circle cx="180" cy="421.4" r="9.5" fill="#fff" stroke="#1e1e1e" stroke-width="1.6"/>
<path d="M0.2,1.6 L1.7,0 L1.7,7.3" transform="matrix(0.9660,0,0,1.05,175.80,417.57)" fill="none" stroke="#161616" stroke-width="1.9" stroke-linecap="round" stroke-linejoin="round"/><path d="M0.4,6.7 C0.8,7.1 1.4,7.3 1.9,7.3 C3.2,7.3 3.9,5.7 3.9,3.3 C3.9,1.1 3.2,0 1.95,0 C0.7,0 0,1.0 0,2.3 C0,3.6 0.8,4.4 1.95,4.4 C2.9,4.4 3.6,3.8 3.9,3.0" transform="matrix(0.9660,0,0,1.05,180.24,417.57)" fill="none" stroke="#161616" stroke-width="1.9" stroke-linecap="round" stroke-linejoin="round"/>
<line x1="202.4" y1="430.3" x2="190" y2="464.3" stroke="#1e1e1e" stroke-width="1.2"/>
<circle cx="205.7" cy="421.4" r="9.5" fill="#fff" stroke="#1e1e1e" stroke-width="1.6"/>
<path d="M0,0 L3.9,0 C2.6,2.0 1.9,4.3 1.6,7.3" transform="matrix(0.9660,0,0,1.05,203.82,417.57)" fill="none" stroke="#161616" stroke-width="1.9" stroke-linecap="round" stroke-linejoin="round"/>
<line x1="230.6" y1="430.2" x2="220" y2="455.7" stroke="#1e1e1e" stroke-width="1.2"/>
<circle cx="234.3" cy="421.4" r="9.5" fill="#fff" stroke="#1e1e1e" stroke-width="1.6"/>
<path d="M0.15,1.4 C0.4,0.5 1.1,0 1.95,0 C3.1,0 3.8,0.8 3.8,1.9 C3.8,2.9 3.2,3.6 2.3,4.5 L0,7.3 L3.9,7.3" transform="matrix(0.9660,0,0,1.05,229.14,417.57)" fill="none" stroke="#161616" stroke-width="1.9" stroke-linecap="round" stroke-linejoin="round"/><path d="M1.95,0 C3.2,0 3.9,1.4 3.9,3.65 C3.9,5.9 3.2,7.3 1.95,7.3 C0.7,7.3 0,5.9 0,3.65 C0,1.4 0.7,0 1.95,0 Z" transform="matrix(0.9660,0,0,1.05,235.70,417.57)" fill="none" stroke="#161616" stroke-width="1.9" stroke-linecap="round" stroke-linejoin="round"/>
<line x1="129.4" y1="519.5" x2="122.8" y2="496.7" stroke="#1e1e1e" stroke-width="1.2"/>
<circle cx="132" cy="528.6" r="9.5" fill="#fff" stroke="#1e1e1e" stroke-width="1.6"/>
<path d="M0.15,1.4 C0.4,0.5 1.1,0 1.95,0 C3.1,0 3.8,0.8 3.8,1.9 C3.8,2.9 3.2,3.6 2.3,4.5 L0,7.3 L3.9,7.3" transform="matrix(0.9660,0,0,1.05,126.74,524.77)" fill="none" stroke="#161616" stroke-width="1.9" stroke-linecap="round" stroke-linejoin="round"/><path d="M1.5,0.4 L0.1,5.2 L4.1,5.2 M3.1,2.9 L3.1,7.3" transform="matrix(0.9660,0,0,1.05,133.20,524.77)" fill="none" stroke="#161616" stroke-width="1.9" stroke-linecap="round" stroke-linejoin="round"/>
<line x1="155.3" y1="519.4" x2="145.9" y2="483.4" stroke="#1e1e1e" stroke-width="1.2"/>
<circle cx="157.7" cy="528.6" r="9.5" fill="#fff" stroke="#1e1e1e" stroke-width="1.6"/>
<path d="M0.15,1.4 C0.4,0.5 1.1,0 1.95,0 C3.1,0 3.8,0.8 3.8,1.9 C3.8,2.9 3.2,3.6 2.3,4.5 L0,7.3 L3.9,7.3" transform="matrix(0.9660,0,0,1.05,152.54,524.77)" fill="none" stroke="#161616" stroke-width="1.9" stroke-linecap="round" stroke-linejoin="round"/><path d="M3.6,0 L0.5,0 L0.2,3.2 C0.7,2.9 1.3,2.75 1.9,2.75 C3.2,2.75 3.9,3.6 3.9,4.95 C3.9,6.4 3.0,7.3 1.8,7.3 C1.1,7.3 0.5,7.1 0,6.6" transform="matrix(0.9660,0,0,1.05,159.10,524.77)" fill="none" stroke="#161616" stroke-width="1.9" stroke-linecap="round" stroke-linejoin="round"/>
<line x1="451.5" y1="472.6" x2="477.4" y2="484.4" stroke="#1e1e1e" stroke-width="1.2"/>
<circle cx="442.9" cy="468.7" r="9.5" fill="#fff" stroke="#1e1e1e" stroke-width="1.6"/>
<path d="M0.2,1.6 L1.7,0 L1.7,7.3" transform="matrix(0.9660,0,0,1.05,438.70,464.87)" fill="none" stroke="#161616" stroke-width="1.9" stroke-linecap="round" stroke-linejoin="round"/><path d="M0.2,0.7 C0.7,0.2 1.3,0 1.9,0 C3.1,0 3.7,0.8 3.7,1.8 C3.7,2.9 2.9,3.5 1.6,3.5 C3.1,3.5 3.9,4.3 3.9,5.4 C3.9,6.6 3.0,7.3 1.8,7.3 C1.1,7.3 0.5,7.1 0,6.6" transform="matrix(0.9660,0,0,1.05,443.14,464.87)" fill="none" stroke="#161616" stroke-width="1.9" stroke-linecap="round" stroke-linejoin="round"/>
<line x1="426.9" y1="489.5" x2="449" y2="500" stroke="#1e1e1e" stroke-width="1.2"/>
<circle cx="418.3" cy="485.4" r="9.5" fill="#fff" stroke="#1e1e1e" stroke-width="1.6"/>
<path d="M0.15,1.4 C0.4,0.5 1.1,0 1.95,0 C3.1,0 3.8,0.8 3.8,1.9 C3.8,2.9 3.2,3.6 2.3,4.5 L0,7.3 L3.9,7.3" transform="matrix(0.9660,0,0,1.05,413.14,481.57)" fill="none" stroke="#161616" stroke-width="1.9" stroke-linecap="round" stroke-linejoin="round"/><path d="M3.5,0.5 C3.1,0.2 2.5,0 2.0,0 C0.7,0 0,1.6 0,4.0 C0,6.2 0.7,7.3 1.95,7.3 C3.2,7.3 3.9,6.3 3.9,5.0 C3.9,3.7 3.1,2.9 1.95,2.9 C1.0,2.9 0.3,3.5 0,4.3" transform="matrix(0.9660,0,0,1.05,419.70,481.57)" fill="none" stroke="#161616" stroke-width="1.9" stroke-linecap="round" stroke-linejoin="round"/>
<line x1="604.5" y1="485.5" x2="562.3" y2="478.1" stroke="#1e1e1e" stroke-width="1.2"/>
<circle cx="613.9" cy="487.1" r="9.5" fill="#fff" stroke="#1e1e1e" stroke-width="1.6"/>
<path d="M0.2,1.6 L1.7,0 L1.7,7.3" transform="matrix(0.9660,0,0,1.05,609.70,483.27)" fill="none" stroke="#161616" stroke-width="1.9" stroke-linecap="round" stroke-linejoin="round"/><path d="M0.15,1.4 C0.4,0.5 1.1,0 1.95,0 C3.1,0 3.8,0.8 3.8,1.9 C3.8,2.9 3.2,3.6 2.3,4.5 L0,7.3 L3.9,7.3" transform="matrix(0.9660,0,0,1.05,614.14,483.27)" fill="none" stroke="#161616" stroke-width="1.9" stroke-linecap="round" stroke-linejoin="round"/>
<line x1="577.7" y1="500.6" x2="556" y2="487.6" stroke="#1e1e1e" stroke-width="1.2"/>
<circle cx="585.8" cy="505.5" r="9.5" fill="#fff" stroke="#1e1e1e" stroke-width="1.6"/>
<path d="M0.2,1.6 L1.7,0 L1.7,7.3" transform="matrix(0.9660,0,0,1.05,581.60,501.67)" fill="none" stroke="#161616" stroke-width="1.9" stroke-linecap="round" stroke-linejoin="round"/><path d="M0.2,0.7 C0.7,0.2 1.3,0 1.9,0 C3.1,0 3.7,0.8 3.7,1.8 C3.7,2.9 2.9,3.5 1.6,3.5 C3.1,3.5 3.9,4.3 3.9,5.4 C3.9,6.6 3.0,7.3 1.8,7.3 C1.1,7.3 0.5,7.1 0,6.6" transform="matrix(0.9660,0,0,1.05,586.04,501.67)" fill="none" stroke="#161616" stroke-width="1.9" stroke-linecap="round" stroke-linejoin="round"/>
<line x1="549.6" y1="521.3" x2="515" y2="508" stroke="#1e1e1e" stroke-width="1.2"/>
<circle cx="558.5" cy="524.7" r="9.5" fill="#fff" stroke="#1e1e1e" stroke-width="1.6"/>
<path d="M0.15,1.4 C0.4,0.5 1.1,0 1.95,0 C3.1,0 3.8,0.8 3.8,1.9 C3.8,2.9 3.2,3.6 2.3,4.5 L0,7.3 L3.9,7.3" transform="matrix(0.9660,0,0,1.05,553.34,520.87)" fill="none" stroke="#161616" stroke-width="1.9" stroke-linecap="round" stroke-linejoin="round"/><path d="M0,0 L3.9,0 C2.6,2.0 1.9,4.3 1.6,7.3" transform="matrix(0.9660,0,0,1.05,559.90,520.87)" fill="none" stroke="#161616" stroke-width="1.9" stroke-linecap="round" stroke-linejoin="round"/>
<line x1="560.2" y1="587.8" x2="579.3" y2="575.7" stroke="#1e1e1e" stroke-width="1.2"/>
<circle cx="552.2" cy="592.9" r="9.5" fill="#fff" stroke="#1e1e1e" stroke-width="1.6"/>
<path d="M0.2,0.7 C0.7,0.2 1.3,0 1.9,0 C3.1,0 3.7,0.8 3.7,1.8 C3.7,2.9 2.9,3.5 1.6,3.5 C3.1,3.5 3.9,4.3 3.9,5.4 C3.9,6.6 3.0,7.3 1.8,7.3 C1.1,7.3 0.5,7.1 0,6.6" transform="matrix(0.9660,0,0,1.05,547.04,589.07)" fill="none" stroke="#161616" stroke-width="1.9" stroke-linecap="round" stroke-linejoin="round"/><path d="M1.95,0 C3.2,0 3.9,1.4 3.9,3.65 C3.9,5.9 3.2,7.3 1.95,7.3 C0.7,7.3 0,5.9 0,3.65 C0,1.4 0.7,0 1.95,0 Z" transform="matrix(0.9660,0,0,1.05,553.60,589.07)" fill="none" stroke="#161616" stroke-width="1.9" stroke-linecap="round" stroke-linejoin="round"/>
<line x1="447.1" y1="617.4" x2="415" y2="606" stroke="#1e1e1e" stroke-width="1.2"/>
<circle cx="456.1" cy="620.6" r="9.5" fill="#fff" stroke="#1e1e1e" stroke-width="1.6"/>
<path d="M1.5,0.4 L0.1,5.2 L4.1,5.2 M3.1,2.9 L3.1,7.3" transform="matrix(0.9660,0,0,1.05,450.74,616.77)" fill="none" stroke="#161616" stroke-width="1.9" stroke-linecap="round" stroke-linejoin="round"/><path d="M1.95,3.4 C0.9,3.4 0.3,2.7 0.3,1.7 C0.3,0.7 1.0,0 1.95,0 C2.9,0 3.6,0.7 3.6,1.7 C3.6,2.7 3.0,3.4 1.95,3.4 C0.8,3.4 0,4.2 0,5.3 C0,6.5 0.8,7.3 1.95,7.3 C3.1,7.3 3.9,6.5 3.9,5.3 C3.9,4.2 3.1,3.4 1.95,3.4 Z" transform="matrix(0.9660,0,0,1.05,457.59,616.77)" fill="none" stroke="#161616" stroke-width="1.9" stroke-linecap="round" stroke-linejoin="round"/>
<line x1="154.8" y1="621.6" x2="96" y2="616" stroke="#1e1e1e" stroke-width="1.2"/>
<circle cx="164.3" cy="622.5" r="9.5" fill="#fff" stroke="#1e1e1e" stroke-width="1.6"/>
<path d="M0.2,0.7 C0.7,0.2 1.3,0 1.9,0 C3.1,0 3.7,0.8 3.7,1.8 C3.7,2.9 2.9,3.5 1.6,3.5 C3.1,3.5 3.9,4.3 3.9,5.4 C3.9,6.6 3.0,7.3 1.8,7.3 C1.1,7.3 0.5,7.1 0,6.6" transform="matrix(0.9660,0,0,1.05,159.14,618.67)" fill="none" stroke="#161616" stroke-width="1.9" stroke-linecap="round" stroke-linejoin="round"/><path d="M0.15,1.4 C0.4,0.5 1.1,0 1.95,0 C3.1,0 3.8,0.8 3.8,1.9 C3.8,2.9 3.2,3.6 2.3,4.5 L0,7.3 L3.9,7.3" transform="matrix(0.9660,0,0,1.05,165.70,618.67)" fill="none" stroke="#161616" stroke-width="1.9" stroke-linecap="round" stroke-linejoin="round"/>
</svg>
</svg>
</body></html>
